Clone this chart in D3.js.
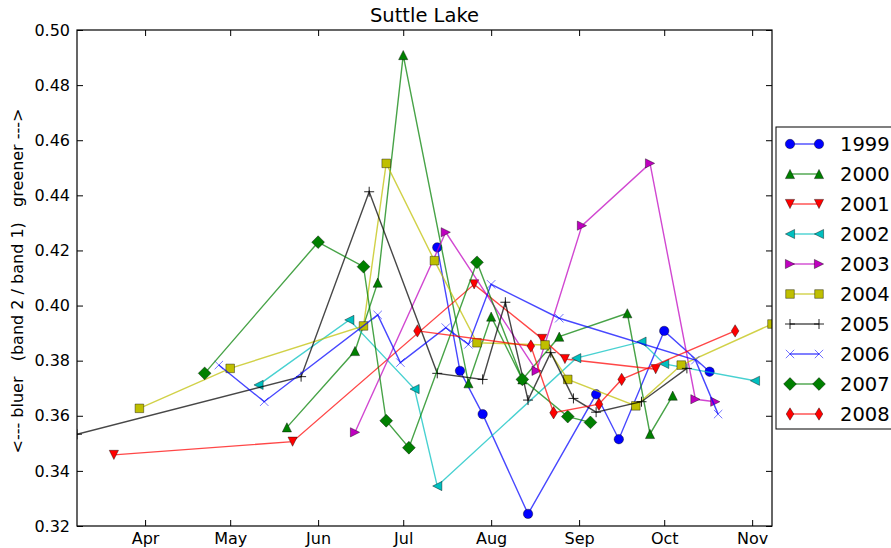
<!DOCTYPE html>
<html>
<head>
<meta charset="utf-8">
<script src="https://cdn.jsdelivr.net/npm/d3@7"></script>
<style>
  body { margin: 0; background: #fff; }
  text { font-family: "DejaVu Sans", sans-serif; fill: #000; }
</style>
</head>
<body>
<svg id="chart" width="891" height="548"></svg>
<script>
'use strict'

// acquisition dates (month-day, all years on one calendar) and band ratio values
const years = ['1999', '2000', '2001', '2002', '2003', '2004', '2005', '2006', '2007', '2008']

const dates1999 = ['07-13', '07-21', '07-29', '08-14', '09-07', '09-15', '10-01', '10-17']
const vals1999  = [0.4211, 0.3763, 0.3606, 0.3244, 0.3678, 0.3515, 0.3908, 0.3760]

const dates2000 = ['05-21', '06-14', '06-22', '07-01', '07-24', '08-01', '08-12', '08-25', '09-18', '09-26', '10-04']
const vals2000  = [0.3558, 0.3835, 0.4083, 0.4909, 0.3718, 0.3960, 0.3732, 0.3887, 0.3972, 0.3534, 0.3673]

const dates2001 = ['03-21', '05-23', '07-26', '08-19', '08-27', '09-28']
const vals2001  = [0.3458, 0.3506, 0.4077, 0.3879, 0.3806, 0.3769]

const dates2002 = ['05-11', '06-12', '07-05', '07-13', '08-31', '09-23', '10-01', '11-02']
const vals2002  = [0.3712, 0.3948, 0.3697, 0.3345, 0.3809, 0.3869, 0.3788, 0.3727]

const dates2003 = ['06-14', '07-16', '08-17', '09-02', '09-26', '10-12', '10-19']
const vals2003  = [0.3540, 0.4266, 0.3763, 0.4290, 0.4516, 0.3660, 0.3651]

const dates2004 = ['03-30', '05-01', '06-17', '06-25', '07-12', '07-27', '08-20', '08-28', '09-21', '10-07', '11-08']
const vals2004  = [0.3627, 0.3772, 0.3926, 0.4516, 0.4163, 0.3865, 0.3857, 0.3732, 0.3636, 0.3784, 0.3933]

const dates2005 = ['03-08', '05-26', '06-19', '07-13', '07-29', '08-06', '08-14', '08-22', '08-30', '09-07', '09-23', '10-09']
const vals2005  = [0.3533, 0.3742, 0.4413, 0.3754, 0.3732, 0.4012, 0.3657, 0.3829, 0.3663, 0.3613, 0.3651, 0.3772]

const dates2006 = ['04-27', '05-13', '06-22', '06-30', '07-16', '07-24', '08-01', '08-25', '10-12', '10-20']
const vals2006  = [0.3784, 0.3651, 0.3966, 0.3793, 0.3920, 0.3859, 0.4077, 0.3954, 0.3802, 0.3606]

const dates2007 = ['04-22', '06-01', '06-17', '06-25', '07-03', '07-27', '08-12', '08-28', '09-05']
const vals2007  = [0.3754, 0.4230, 0.4141, 0.3582, 0.3484, 0.4157, 0.3732, 0.3597, 0.3576]

const dates2008 = ['07-06', '08-15', '08-23', '09-08', '09-16', '10-26']
const vals2008  = [0.3908, 0.3853, 0.3611, 0.3642, 0.3732, 0.3908]

const allDates = [dates1999, dates2000, dates2001, dates2002, dates2003, dates2004, dates2005, dates2006, dates2007, dates2008]
const allVals  = [vals1999, vals2000, vals2001, vals2002, vals2003, vals2004, vals2005, vals2006, vals2007, vals2008]

const colors  = ['#0000ff', '#008000', '#ff0000', '#00bfbf', '#bf00bf', '#bfbf00', '#000000', '#0000ff', '#008000', '#ff0000']
const markers = ['o', '^', 'v', '<', '>', 's', '+', 'x', 'D', 'd']

const yTicks = [0.32, 0.34, 0.36, 0.38, 0.40, 0.42, 0.44, 0.46, 0.48, 0.50]
const xTickMonths = ['04-01', '05-01', '06-01', '07-01', '08-01', '09-01', '10-01', '11-01']

const parseDay = d3.timeParse('%m-%d')

const series = years.map((yr, i) => ({
  year: yr,
  color: colors[i],
  marker: markers[i],
  points: allDates[i].map((d, j) => ({ date: parseDay(d), value: allVals[i][j] }))
}))

const margin = {top: 30, right: 119, bottom: 22, left: 77},
      width  = 891 - margin.left - margin.right,
      height = 548 - margin.top - margin.bottom

const svg = d3.select('#chart')

const x = d3.scaleTime()
  .domain(d3.extent(series.flatMap(s => s.points), d => d.date))
  .range([0, width])
const y = d3.scaleLinear()
  .domain([0.32, 0.50])
  .range([height, 0])

function markerPath(m) {
  switch (m) {
    case 'o': return d3.symbol(d3.symbolCircle, Math.PI * 4.7 * 4.7)()
    case '^': return 'M0,-4.6L4.6,4.6L-4.6,4.6Z'
    case 'v': return 'M0,4.6L4.6,-4.6L-4.6,-4.6Z'
    case '<': return 'M-4.6,0L4.6,-4.6L4.6,4.6Z'
    case '>': return 'M4.6,0L-4.6,-4.6L-4.6,4.6Z'
    case 's': return 'M-4.3,-4.3H4.3V4.3H-4.3Z'
    case 'D': return 'M0,-6.4L6.4,0L0,6.4L-6.4,0Z'
    case 'd': return 'M0,-6.2L3.8,0L0,6.2L-3.8,0Z'
    case '+': return 'M-5,0H5M0,-5V5'
    case 'x': return 'M-4.2,-4.2L4.2,4.2M-4.2,4.2L4.2,-4.2'
  }
}

function styleMarker(sel, s) {
  const open = s.marker === '+' || s.marker === 'x'
  sel.attr('d', markerPath(s.marker))
    .attr('fill', open ? 'none' : s.color)
    .attr('stroke', open ? s.color : '#000')
    .attr('stroke-width', open ? 1 : 0.5)
    .attr('stroke-opacity', s.marker === 'x' ? 0.55 : (open ? 0.85 : 0.8))
}

// title
svg.append('text')
  .attr('x', margin.left + width / 2)
  .attr('y', 22)
  .attr('text-anchor', 'middle')
  .attr('font-size', 19.5)
  .text('Suttle Lake')

// y label
svg.append('text')
  .attr('transform', `translate(17,${margin.top + height / 2 + 3}) rotate(-90)`)
  .attr('text-anchor', 'middle')
  .attr('dominant-baseline', 'central')
  .attr('font-size', 16)
  .style('white-space', 'pre')
  .text('<--- bluer   (band 2 / band 1)   greener --->')

const chart = svg.append('g')
  .attr('transform', `translate(${margin.left},${margin.top})`)

chart.append('clipPath').attr('id', 'plot-clip')
  .append('rect').attr('width', width).attr('height', height)

const monthTicks = xTickMonths.map(parseDay)

function styleAxis(g) {
  g.attr('font-family', null).attr('font-size', 16)
  g.select('.domain').remove()
  g.selectAll('.tick line').attr('stroke', '#000').attr('stroke-width', 1)
}

chart.append('g')
  .attr('transform', `translate(0,${height})`)
  .call(d3.axisBottom(x).tickValues(monthTicks).tickFormat(d3.timeFormat('%b')).tickSize(-6).tickPadding(7))
  .call(styleAxis)
chart.append('g')
  .call(d3.axisTop(x).tickValues(monthTicks).tickFormat('').tickSize(-6))
  .call(styleAxis)
chart.append('g')
  .call(d3.axisLeft(y).tickValues(yTicks).tickFormat(d3.format('.2f')).tickSize(-6).tickPadding(7))
  .call(styleAxis)
chart.append('g')
  .attr('transform', `translate(${width},0)`)
  .call(d3.axisRight(y).tickValues(yTicks).tickFormat('').tickSize(-6))
  .call(styleAxis)

const line = d3.line()
  .x(d => x(d.date))
  .y(d => y(d.value))

const plot = chart.append('g').attr('clip-path', 'url(#plot-clip)')

series.forEach(s => {
  const g = plot.append('g')
  g.append('path')
    .datum(s.points)
    .attr('fill', 'none')
    .attr('stroke', s.color)
    .attr('stroke-opacity', 0.72)
    .attr('stroke-width', 1.4)
    .attr('d', line)
  g.selectAll('path.mk')
    .data(s.points)
    .join('path')
      .attr('class', 'mk')
      .attr('transform', d => `translate(${x(d.date)},${y(d.value)})`)
      .call(styleMarker, s)
})

// frame
chart.append('rect')
  .attr('width', width)
  .attr('height', height)
  .attr('fill', 'none')
  .attr('stroke', '#000')
  .attr('stroke-width', 1.2)

// legend
const legend = svg.append('g').attr('transform', 'translate(776,127)')
legend.append('rect')
  .attr('width', 140)
  .attr('height', 302)
  .attr('fill', '#fff')
  .attr('stroke', '#000')
  .attr('stroke-width', 1)

const entry = legend.selectAll('g.entry')
  .data(series)
  .join('g')
    .attr('class', 'entry')
    .attr('transform', (d, i) => `translate(0,${17 + i * 30})`)

entry.append('line')
  .attr('x1', 14).attr('x2', 43)
  .attr('stroke', d => d.color)
  .attr('stroke-opacity', 0.72)
  .attr('stroke-width', 1.4)

entry.each(function(s) {
  d3.select(this).selectAll('path.mk')
    .data([14, 43])
    .join('path')
      .attr('class', 'mk')
      .attr('transform', d => `translate(${d},0)`)
      .call(styleMarker, s)
})

entry.append('text')
  .attr('x', 64)
  .attr('dy', '0.36em')
  .attr('font-size', 19.5)
  .text(d => d.year)
</script>
</body>
</html>
